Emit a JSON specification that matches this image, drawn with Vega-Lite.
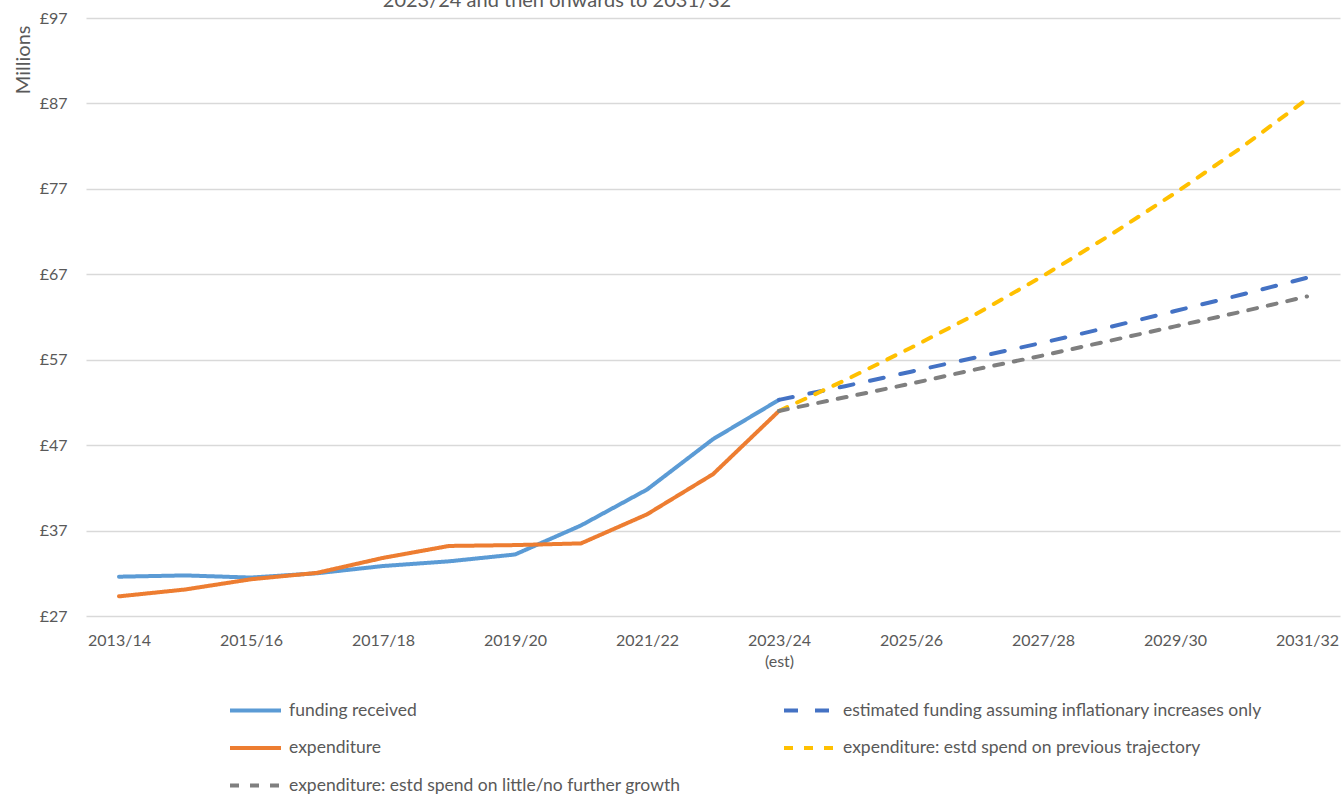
{
  "$schema": "https://vega.github.io/schema/vega-lite/v6.json",
  "width": 1254,
  "height": 598,
  "autosize": {"type": "none"},
  "padding": {"left": 86, "top": 18, "right": 1, "bottom": 180},
  "background": "white",
  "title": {"text": "2023/24 and then onwards to 2031/32", "anchor": "middle", "dx": -156, "fontSize": 20, "font": "Lato", "fontWeight": "normal", "color": "#595959", "offset": -1},
  "config": {"view": {"stroke": null}, "font": "Lato"},
  "data": {"values": [
    {"year": "2013/14", "series": "funding received", "value": 31.6},
    {"year": "2014/15", "series": "funding received", "value": 31.75},
    {"year": "2015/16", "series": "funding received", "value": 31.5},
    {"year": "2016/17", "series": "funding received", "value": 32.0},
    {"year": "2017/18", "series": "funding received", "value": 32.85},
    {"year": "2018/19", "series": "funding received", "value": 33.4},
    {"year": "2019/20", "series": "funding received", "value": 34.2},
    {"year": "2020/21", "series": "funding received", "value": 37.6},
    {"year": "2021/22", "series": "funding received", "value": 41.8},
    {"year": "2022/23", "series": "funding received", "value": 47.7},
    {"year": "2023/24", "series": "funding received", "value": 52.3},
    {"year": "2013/14", "series": "expenditure", "value": 29.3},
    {"year": "2014/15", "series": "expenditure", "value": 30.1},
    {"year": "2015/16", "series": "expenditure", "value": 31.3},
    {"year": "2016/17", "series": "expenditure", "value": 32.05},
    {"year": "2017/18", "series": "expenditure", "value": 33.8},
    {"year": "2018/19", "series": "expenditure", "value": 35.2},
    {"year": "2019/20", "series": "expenditure", "value": 35.3},
    {"year": "2020/21", "series": "expenditure", "value": 35.5},
    {"year": "2021/22", "series": "expenditure", "value": 38.9},
    {"year": "2022/23", "series": "expenditure", "value": 43.6},
    {"year": "2023/24", "series": "expenditure", "value": 51.0},
    {"year": "2023/24", "series": "estimated funding assuming inflationary increases only", "value": 52.3},
    {"year": "2024/25", "series": "estimated funding assuming inflationary increases only", "value": 53.9},
    {"year": "2025/26", "series": "estimated funding assuming inflationary increases only", "value": 55.6},
    {"year": "2026/27", "series": "estimated funding assuming inflationary increases only", "value": 57.3},
    {"year": "2027/28", "series": "estimated funding assuming inflationary increases only", "value": 59.0},
    {"year": "2028/29", "series": "estimated funding assuming inflationary increases only", "value": 60.8},
    {"year": "2029/30", "series": "estimated funding assuming inflationary increases only", "value": 62.7},
    {"year": "2030/31", "series": "estimated funding assuming inflationary increases only", "value": 64.6},
    {"year": "2031/32", "series": "estimated funding assuming inflationary increases only", "value": 66.6},
    {"year": "2023/24", "series": "expenditure: estd spend on previous trajectory", "value": 51.0},
    {"year": "2024/25", "series": "expenditure: estd spend on previous trajectory", "value": 54.6},
    {"year": "2025/26", "series": "expenditure: estd spend on previous trajectory", "value": 58.4},
    {"year": "2026/27", "series": "expenditure: estd spend on previous trajectory", "value": 62.4},
    {"year": "2027/28", "series": "expenditure: estd spend on previous trajectory", "value": 66.8},
    {"year": "2028/29", "series": "expenditure: estd spend on previous trajectory", "value": 71.5},
    {"year": "2029/30", "series": "expenditure: estd spend on previous trajectory", "value": 76.5},
    {"year": "2030/31", "series": "expenditure: estd spend on previous trajectory", "value": 81.8},
    {"year": "2031/32", "series": "expenditure: estd spend on previous trajectory", "value": 87.5},
    {"year": "2023/24", "series": "expenditure: estd spend on little/no further growth", "value": 51.0},
    {"year": "2024/25", "series": "expenditure: estd spend on little/no further growth", "value": 52.6},
    {"year": "2025/26", "series": "expenditure: estd spend on little/no further growth", "value": 54.2},
    {"year": "2026/27", "series": "expenditure: estd spend on little/no further growth", "value": 55.9},
    {"year": "2027/28", "series": "expenditure: estd spend on little/no further growth", "value": 57.5},
    {"year": "2028/29", "series": "expenditure: estd spend on little/no further growth", "value": 59.2},
    {"year": "2029/30", "series": "expenditure: estd spend on little/no further growth", "value": 60.9},
    {"year": "2030/31", "series": "expenditure: estd spend on little/no further growth", "value": 62.6},
    {"year": "2031/32", "series": "expenditure: estd spend on little/no further growth", "value": 64.4}
  ]},
  "mark": {"type": "line", "strokeWidth": 4, "strokeCap": "round", "strokeJoin": "round"},
  "encoding": {
    "x": {
      "field": "year", "type": "ordinal",
      "scale": {"type": "point", "padding": 0.5, "domain": ["2013/14","2014/15","2015/16","2016/17","2017/18","2018/19","2019/20","2020/21","2021/22","2022/23","2023/24","2024/25","2025/26","2026/27","2027/28","2028/29","2029/30","2030/31","2031/32"]},
      "axis": {
        "title": null,
        "values": ["2013/14","2015/16","2017/18","2019/20","2021/22","2023/24","2025/26","2027/28","2029/30","2031/32"],
        "labelExpr": "datum.value == '2023/24' ? ['2023/24', '(est)'] : datum.value",
        "labelAngle": 0,
        "ticks": false,
        "domain": false,
        "grid": false,
        "labelFontSize": 16,
        "labelColor": "#595959",
        "labelPadding": 16,
        "labelLineHeight": 21
      }
    },
    "y": {
      "field": "value", "type": "quantitative",
      "scale": {"domain": [27, 97], "nice": false, "zero": false},
      "axis": {
        "values": [27, 37, 47, 57, 67, 77, 87, 97],
        "labelExpr": "'£' + datum.value",
        "ticks": false,
        "domain": false,
        "grid": true,
        "gridColor": "#d9d9d9",
        "gridWidth": 1.5,
        "labelFontSize": 16,
        "labelColor": "#595959",
        "labelPadding": 19,
        "title": "Millions",
        "titleFontSize": 20,
        "titleFontWeight": "normal",
        "titleColor": "#595959",
        "titleAngle": -90,
        "titleX": -57,
        "titleY": 7,
        "titleAlign": "right",
        "titleBaseline": "alphabetic"
      }
    },
    "color": {
      "field": "series", "type": "nominal",
      "scale": {
        "domain": ["funding received", "expenditure", "expenditure: estd spend on little/no further growth", "estimated funding assuming inflationary increases only", "expenditure: estd spend on previous trajectory"],
        "range": ["#5b9bd5", "#ed7d31", "#7f7f7f", "#4472c4", "#ffc000"]
      },
      "legend": {
        "orient": "none", "legendX": 142, "legendY": 665, "columns": 2, "columnPadding": 95, "rowPadding": 1.5,
        "title": null, "symbolType": "stroke", "symbolSize": 2601, "symbolStrokeWidth": 4,
        "labelFontSize": 17.5, "labelColor": "#595959", "labelOffset": 6, "labelLimit": 700
      }
    },
    "strokeDash": {
      "field": "series", "type": "nominal",
      "scale": {
        "domain": ["funding received", "expenditure", "expenditure: estd spend on little/no further growth", "estimated funding assuming inflationary increases only", "expenditure: estd spend on previous trajectory"],
        "range": [[1, 0], [1, 0], [9, 11], [14, 17], [9, 11]]
      },
      "legend": {
        "orient": "none", "legendX": 142, "legendY": 665, "columns": 2, "columnPadding": 95, "rowPadding": 1.5,
        "title": null, "symbolType": "stroke", "symbolSize": 2601, "symbolStrokeWidth": 4,
        "labelFontSize": 17.5, "labelColor": "#595959", "labelOffset": 6, "labelLimit": 700
      }
    }
  }
}
